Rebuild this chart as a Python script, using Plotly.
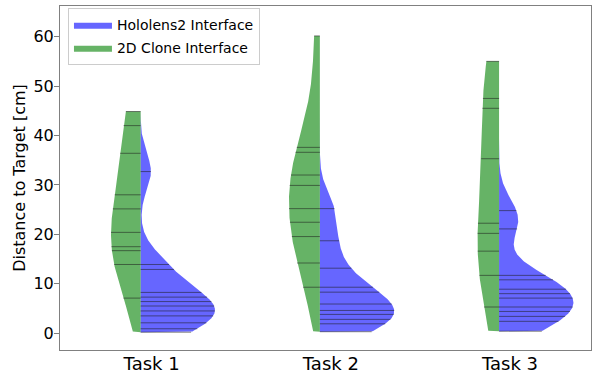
import numpy as np
import plotly.graph_objects as go

tasks = ["Task 1", "Task 2", "Task 3"]

# Distance to target [cm] per task and interface
holo_task1 = [0.2, 0.9, 2.1, 3.5, 4.5, 5.5, 6.4, 7.3, 8.25, 12.9, 13.9, 32.7]
holo_task2 = [0.3, 1.9, 2.8, 3.8, 4.6, 5.9, 8.3, 9.3, 13.15, 18.7, 25.2]
holo_task3 = [0.4, 2.4, 3.4, 4.4, 5.3, 7.1, 8.0, 8.9, 10.8, 11.7, 21.1, 24.8]

clone_task1 = [7.1, 13.9, 16.7, 17.5, 20.4, 25.15, 28.0, 36.4, 42.0, 44.85]
clone_task2 = [9.3, 14.2, 19.55, 22.45, 25.2, 29.9, 32.0, 36.6, 37.6, 60.15]
clone_task3 = [5.3, 11.7, 16.6, 20.2, 22.25, 35.3, 45.5, 47.5, 55.0]

holo = [holo_task1, holo_task2, holo_task3]
clone = [clone_task1, clone_task2, clone_task3]

yticks = [0, 10, 20, 30, 40, 50, 60]

# styling
BLUE = "rgba(0,0,255,0.6)"
GREEN = "rgba(0,128,0,0.6)"
STICK = "rgba(30,30,30,0.55)"
HALF = 0.415                  # half width of each split violin (x units)
holo_bw = [3.7, 3.7, 3.7]     # KDE bandwidths
clone_bw = [9.0, 10.0, 11.9]


def kde(d, grid, bw):
    d = np.asarray(d, float)
    g = np.asarray(grid, float)
    z = (g[:, None] - d[None, :]) / bw
    return np.exp(-0.5 * z ** 2).sum(1) / (len(d) * bw * np.sqrt(2 * np.pi))


series = [("Hololens2 Interface", holo, holo_bw, BLUE, 1),
          ("2D Clone Interface", clone, clone_bw, GREEN, -1)]

# common support per task (cut at data range), shared density scale per task
spans, gmax = [], []
for i in range(3):
    lo = min(min(holo[i]), min(clone[i]))
    hi = max(max(holo[i]), max(clone[i]))
    spans.append((lo, hi))
    grid = np.linspace(lo, hi, 600)
    gmax.append(max(kde(data[i], grid, bws[i]).max()
                    for _, data, bws, _, _ in series))

fig = go.Figure()

# split violin halves (KDE of each series)
for name, data, bws, color, sgn in series:
    for i in range(3):
        lo, hi = spans[i]
        grid = np.linspace(lo, hi, 600)
        w = kde(data[i], grid, bws[i]) / gmax[i] * HALF
        xs = np.concatenate([[i], i + sgn * w, [i]])
        ys = np.concatenate([[lo], grid, [hi]])
        fig.add_trace(go.Scatter(
            x=xs, y=ys, mode="lines", fill="toself", fillcolor=color,
            line=dict(width=0, color=color),
            name=name, legendgroup=name, showlegend=(i == 0),
            hoverinfo="skip"))

# stick lines (one per observation)
for name, data, bws, color, sgn in series:
    for i in range(3):
        d = data[i]
        dens = kde(d, d, bws[i]) / gmax[i] * HALF
        xs, ys = [], []
        for v, w in zip(d, dens):
            xs += [i, i + sgn * w, None]
            ys += [v, v, None]
        fig.add_trace(go.Scatter(x=xs, y=ys, mode="lines",
                                 line=dict(color=STICK, width=1),
                                 showlegend=False, hoverinfo="skip"))

fig.update_layout(
    width=592, height=374,
    margin=dict(l=60, r=1, t=6, b=24),
    plot_bgcolor="white", paper_bgcolor="white",
    font=dict(family="DejaVu Sans", color="black"),
    legend=dict(x=0.015, y=0.994, xanchor="left", yanchor="top",
                bgcolor="rgba(255,255,255,0.8)", bordercolor="#cccccc",
                borderwidth=1, font=dict(size=14), tracegroupgap=2,
                itemwidth=38),
    showlegend=True,
)
fig.update_xaxes(range=[-0.45, 2.513], tickvals=[0, 1, 2], ticktext=tasks,
                 showgrid=False, zeroline=False, showline=True, mirror=True,
                 linecolor="#808080", linewidth=1, ticks="",
                 tickfont=dict(size=18), ticklabelshift=11,
                 ticklabelstandoff=-3, automargin=False)
fig.update_yaxes(range=[-3.4, 66.2], tickvals=yticks,
                 showgrid=False, zeroline=False, showline=True, mirror=True,
                 linecolor="#808080", linewidth=1, ticks="outside", ticklen=5,
                 tickcolor="#808080", tickfont=dict(size=16), automargin=False,
                 ticklabelstandoff=-3,
                 title=dict(text="Distance to Target [cm]", font=dict(size=16),
                            standoff=3))

fig.write_html("out.html", config={"displayModeBar": False},
               post_script="document.body.style.margin='0px';")
